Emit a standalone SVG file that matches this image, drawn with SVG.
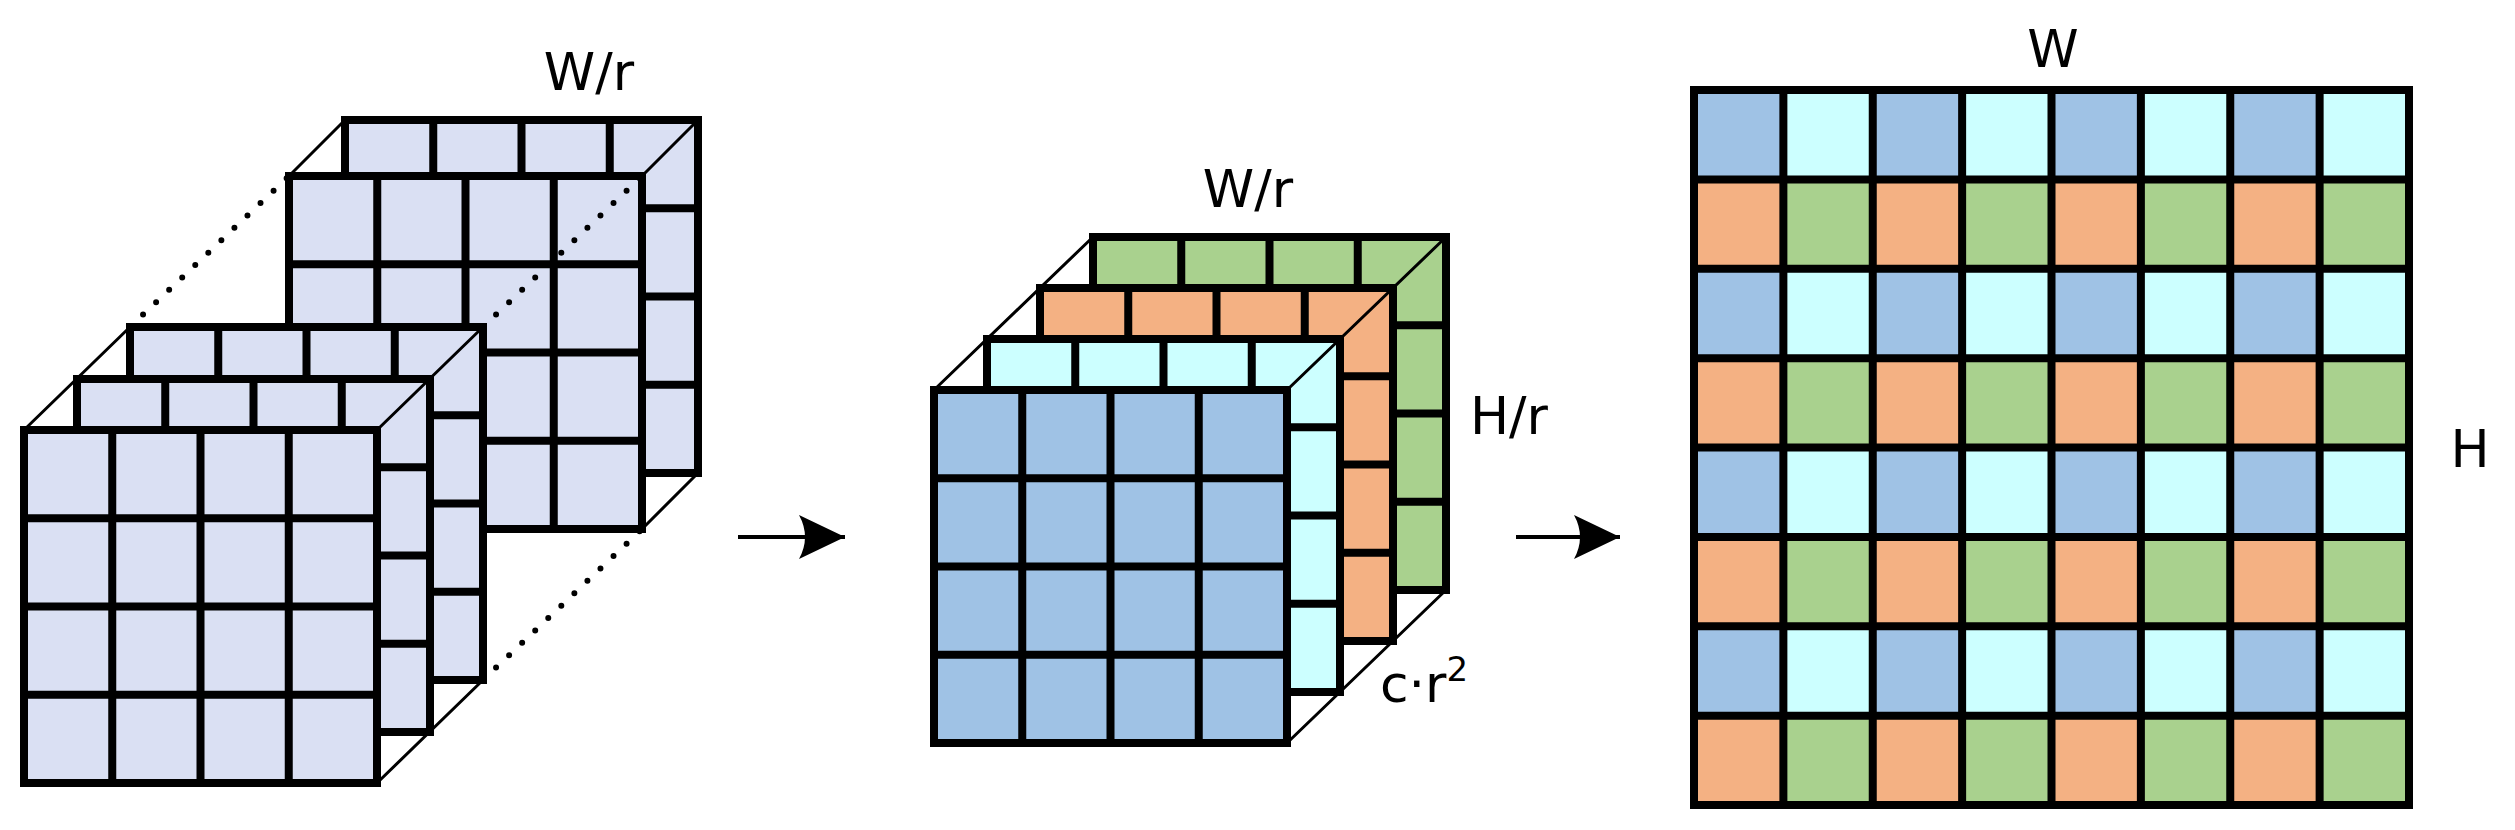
<svg xmlns="http://www.w3.org/2000/svg" xmlns:xlink="http://www.w3.org/1999/xlink" width="2515" height="830" viewBox="0 0 2515 830">
<style>
.g{stroke:#000;stroke-width:8;stroke-linecap:square}
.thin{stroke:#000;stroke-width:3;fill:none}
.dot{stroke:#000;stroke-width:6;fill:none;stroke-dasharray:0 18;stroke-linecap:round}
.t{font-family:"DejaVu Sans",sans-serif;font-size:52px;fill:#000}
.lav{fill:#dae0f3}.blu{fill:#9fc2e5}.cya{fill:#ccffff}.ora{fill:#f4b183}.gre{fill:#a9d18e}
</style>
<defs>
<g id="grid4"><rect width="353" height="353" class="g"/><path class="g" fill="none" d="M88.25 0V353M176.5 0V353M264.75 0V353M0 88.25H353M0 176.5H353M0 264.75H353"/></g>
<pattern id="pA" patternUnits="userSpaceOnUse" x="1694" y="90" width="178.75" height="715"><rect width="89.375" height="715" fill="#9fc2e5"/><rect x="89.375" width="89.375" height="715" fill="#ccffff"/></pattern>
<pattern id="pB" patternUnits="userSpaceOnUse" x="1694" y="90" width="178.75" height="715"><rect width="89.375" height="715" fill="#f4b183"/><rect x="89.375" width="89.375" height="715" fill="#a9d18e"/></pattern>
<marker id="ah" markerUnits="userSpaceOnUse" markerWidth="60" markerHeight="50" refX="46" refY="22" orient="auto"><path d="M46 22L0 0Q12 22 0 44Z" fill="#000"/></marker>
</defs>
<g id="input-back">
<use href="#grid4" xlink:href="#grid4" x="345" y="120" class="lav"/>
<use href="#grid4" xlink:href="#grid4" x="289" y="176" class="lav"/>
<path class="thin" d="M289 176L345 120M642 176L698 120M642 529L698 473"/>
</g>
<g id="input-dots"><path class="dot" d="M130 327L289 176M483 327L642 176M483 680L642 529"/></g>
<g id="input-front">
<use href="#grid4" xlink:href="#grid4" x="130" y="327" class="lav"/>
<use href="#grid4" xlink:href="#grid4" x="77" y="379" class="lav"/>
<use href="#grid4" xlink:href="#grid4" x="24" y="430" class="lav"/>
<path class="thin" d="M24 430L130 327M377 430L483 327M377 783L483 680"/>
<text class="t" x="589" y="90" text-anchor="middle">W/r</text>
</g>
<g id="middle">
<use href="#grid4" xlink:href="#grid4" x="1093" y="237" class="gre"/>
<use href="#grid4" xlink:href="#grid4" x="1040" y="288" class="ora"/>
<use href="#grid4" xlink:href="#grid4" x="987" y="339" class="cya"/>
<use href="#grid4" xlink:href="#grid4" x="934" y="390" class="blu"/>
<path class="thin" d="M934 390L1093 237M1287 390L1446 237M1287 743L1446 590"/>
<text class="t" x="1248" y="207" text-anchor="middle">W/r</text>
<text class="t" x="1470" y="434">H/r</text>
<text class="t" x="1380" y="702">c·r<tspan font-size="34" dy="-21">2</tspan></text>
</g>
<g id="output">
<rect x="1694" y="90" width="715" height="89.375" fill="url(#pA)"/>
<rect x="1694" y="179.375" width="715" height="89.375" fill="url(#pB)"/>
<rect x="1694" y="268.75" width="715" height="89.375" fill="url(#pA)"/>
<rect x="1694" y="358.125" width="715" height="89.375" fill="url(#pB)"/>
<rect x="1694" y="447.5" width="715" height="89.375" fill="url(#pA)"/>
<rect x="1694" y="536.875" width="715" height="89.375" fill="url(#pB)"/>
<rect x="1694" y="626.25" width="715" height="89.375" fill="url(#pA)"/>
<rect x="1694" y="715.625" width="715" height="89.375" fill="url(#pB)"/>
<rect x="1694" y="90" width="715" height="715" fill="none" class="g"/>
<path class="g" fill="none" d="M1783.375 90V805M1872.75 90V805M1962.125 90V805M2051.5 90V805M2140.875 90V805M2230.25 90V805M2319.625 90V805M1694 179.375H2409M1694 268.75H2409M1694 358.125H2409M1694 447.5H2409M1694 536.875H2409M1694 626.25H2409M1694 715.625H2409"/>
<text class="t" x="2053" y="67" text-anchor="middle">W</text>
<text class="t" x="2470" y="467" text-anchor="middle">H</text>
</g>
<g id="connectors">
<path d="M738 537H845" stroke="#000" stroke-width="4" marker-end="url(#ah)"/>
<path d="M1516 537H1620" stroke="#000" stroke-width="4" marker-end="url(#ah)"/>
</g>
</svg>
